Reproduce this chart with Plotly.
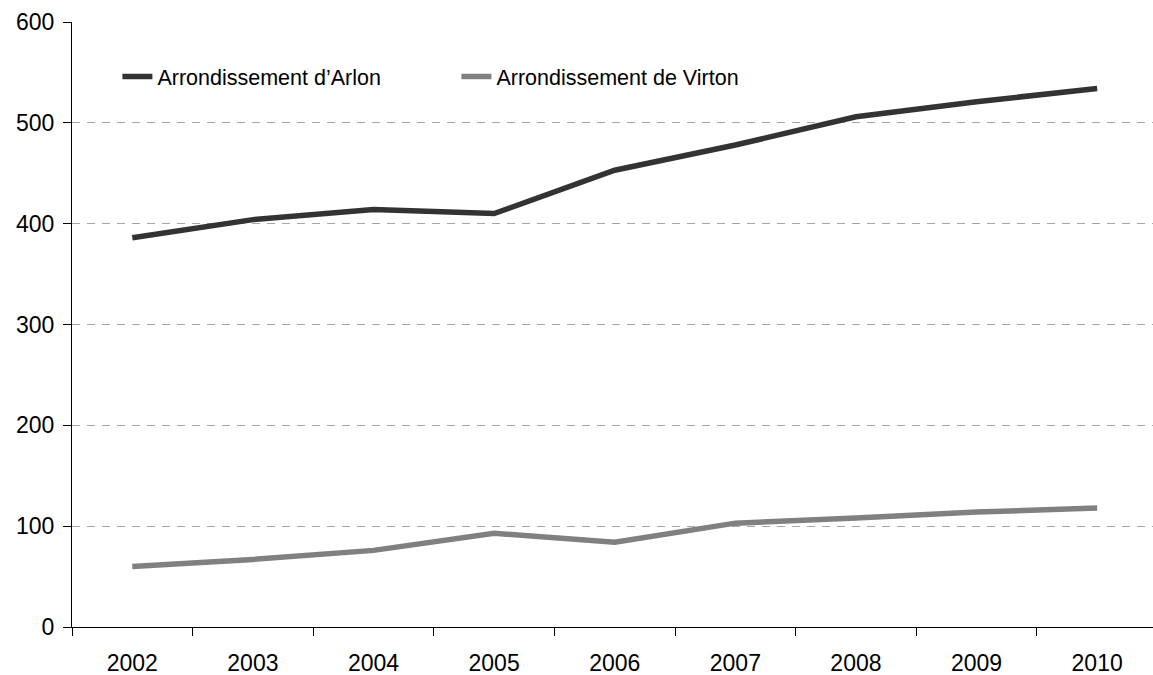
import plotly.graph_objects as go

# Yearly figures for the two arrondissements
years = ["2002", "2003", "2004", "2005", "2006", "2007", "2008", "2009", "2010"]
arlon = [386, 404, 414, 410, 453, 478, 506, 521, 534]
virton = [60, 67, 76, 93, 84, 103, 108, 114, 118]
series_names = ["Arrondissement d\u2019Arlon", "Arrondissement de Virton"]
y_ticks = [0, 100, 200, 300, 400, 500, 600]

FONT = "Liberation Sans, Arial, sans-serif"

fig = go.Figure()
fig.add_trace(go.Scatter(
    x=years, y=arlon, name=series_names[0], mode="lines",
    line=dict(color="#333333", width=5.5),
))
fig.add_trace(go.Scatter(
    x=years, y=virton, name=series_names[1], mode="lines",
    line=dict(color="#808080", width=5.5),
))

fig.update_layout(
    width=1153, height=675,
    margin=dict(l=72, r=0, t=22, b=48),
    paper_bgcolor="white", plot_bgcolor="white",
    font=dict(family=FONT, size=22, color="black"),
    showlegend=True,
    legend=dict(
        orientation="h", x=0.042, y=0.91, xanchor="left", yanchor="middle",
        font=dict(size=21.5), bgcolor="rgba(0,0,0,0)", borderwidth=0,
        itemwidth=30, entrywidth=294, tracegroupgap=0,
    ),
)

fig.update_xaxes(
    type="category", range=[-0.5, 8.463],
    showline=True, linecolor="#000000", linewidth=1,
    ticks="outside", tickson="boundaries", ticklen=8, tickcolor="#000000",
    showgrid=False, zeroline=False,
    tickfont=dict(size=23), ticklabelstandoff=15,
)
fig.update_yaxes(
    range=[0, 600], tickvals=y_ticks,
    showline=True, linecolor="#000000", linewidth=1,
    ticks="outside", ticklen=8, tickcolor="#000000",
    showgrid=True, gridcolor="#a6a6a6", gridwidth=1, griddash="8px,7px",
    zeroline=False,
    tickfont=dict(size=23), ticklabelstandoff=4,
)

fig.write_html("out.html")
